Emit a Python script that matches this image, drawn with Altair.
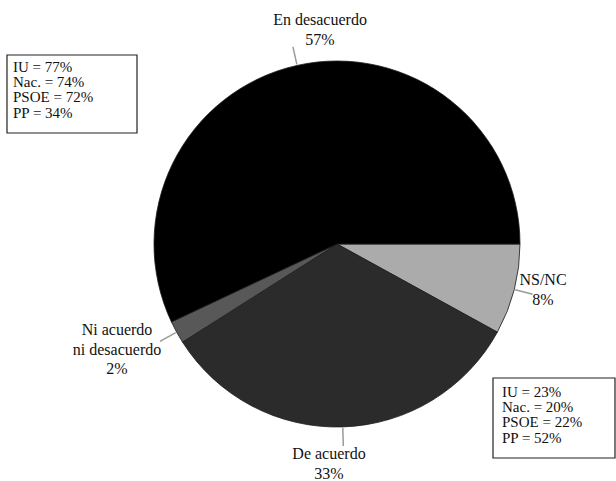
import altair as alt
import pandas as pd
import numpy as np

# ---- data ----
categories = ["NS/NC", "De acuerdo", "Ni acuerdo ni desacuerdo", "En desacuerdo"]
label_text = ["NS/NC", "De acuerdo", "Ni acuerdo\nni desacuerdo", "En desacuerdo"]
values = [8, 33, 2, 57]
colors = ["#ababab", "#2b2b2b", "#585858", "#000000"]
box_desacuerdo = ["IU = 77%", "Nac. = 74%", "PSOE = 72%", "PP = 34%"]
box_acuerdo = ["IU = 23%", "Nac. = 20%", "PSOE = 22%", "PP = 52%"]

# ---- layout ----
W, H = 616, 481
CX, CY, R = 337, 244, 183
LEAD_IN, LEAD_OUT = R + 1, R + 19
label_pos = {  # (x centre, first baseline)
    "NS/NC": (543, 285),
    "De acuerdo": (329, 459),
    "Ni acuerdo ni desacuerdo": (117, 335),
    "En desacuerdo": (320, 25),
}
boxes = [
    {"x": 7, "x2": 137, "y": 55, "y2": 133, "tx": 13, "ty": 72, "lines": box_desacuerdo},
    {"x": 493, "x2": 615, "y": 378, "y2": 458, "tx": 502, "ty": 397, "lines": box_acuerdo},
]
FONT = "Liberation Serif"

xs = alt.Scale(domain=[0, W], range=[0, W])
ys = alt.Scale(domain=[0, H], range=[0, H])

pie_df = pd.DataFrame({"cat": categories, "value": values, "order": list(range(len(values)))})

pie = alt.Chart(pie_df).mark_arc(outerRadius=R, stroke="#1c1c1c", strokeWidth=0.8).encode(
    theta=alt.Theta("value:Q", stack=True,
                    scale=alt.Scale(domain=[0, 100], range=[np.pi / 2, np.pi / 2 + 2 * np.pi])),
    color=alt.Color("cat:N", scale=alt.Scale(domain=categories, range=colors), legend=None),
    order=alt.Order("order:Q"),
    x=alt.value(CX),
    y=alt.value(CY),
)

# leader lines at each slice's mid angle (clockwise from east, screen coords)
cum = np.cumsum([0] + values)
mid = (cum[:-1] + cum[1:]) / 2 / 100 * 2 * np.pi
lead_df = pd.DataFrame({
    "cat": categories,
    "x1": CX + LEAD_IN * np.cos(mid), "y1": CY + LEAD_IN * np.sin(mid),
    "x2": CX + LEAD_OUT * np.cos(mid), "y2": CY + LEAD_OUT * np.sin(mid),
})
leaders = alt.Chart(lead_df).mark_rule(color="#9a9a9a", strokeWidth=1.5).encode(
    x=alt.X("x1:Q", scale=xs, axis=None), y=alt.Y("y1:Q", scale=ys, axis=None),
    x2="x2:Q", y2="y2:Q",
)

lab_df = pd.DataFrame({
    "cat": categories,
    "text": [f"{t}\n{v}%" for t, v in zip(label_text, values)],
    "lx": [label_pos[c][0] for c in categories],
    "ly": [label_pos[c][1] for c in categories],
})
labels = alt.Chart(lab_df).mark_text(
    align="center", baseline="alphabetic", font=FONT, fontSize=16,
    lineHeight=19.5, lineBreak="\n", color="#111111",
).encode(
    x=alt.X("lx:Q", scale=xs, axis=None), y=alt.Y("ly:Q", scale=ys, axis=None), text="text:N",
)

box_df = pd.DataFrame([{k: b[k] for k in ("x", "x2", "y", "y2", "tx", "ty")} | {"text": "\n".join(b["lines"])}
                       for b in boxes])
rects = alt.Chart(box_df).mark_rect(fill="white", stroke="#222222", strokeWidth=1.2).encode(
    x=alt.X("x:Q", scale=xs, axis=None), x2="x2:Q",
    y=alt.Y("y:Q", scale=ys, axis=None), y2="y2:Q",
)
box_text = alt.Chart(box_df).mark_text(
    align="left", baseline="alphabetic", font=FONT, fontSize=15,
    lineHeight=15.2, lineBreak="\n", color="#111111",
).encode(
    x=alt.X("tx:Q", scale=xs, axis=None), y=alt.Y("ty:Q", scale=ys, axis=None), text="text:N",
)

chart = alt.layer(pie, leaders, labels, rects, box_text).properties(
    width=W, height=H, autosize=alt.AutoSizeParams(type="none"), padding=0,
    background="white",
).configure_view(strokeWidth=0)

chart.save("out.html", embed_options={"renderer": "svg", "actions": False})
